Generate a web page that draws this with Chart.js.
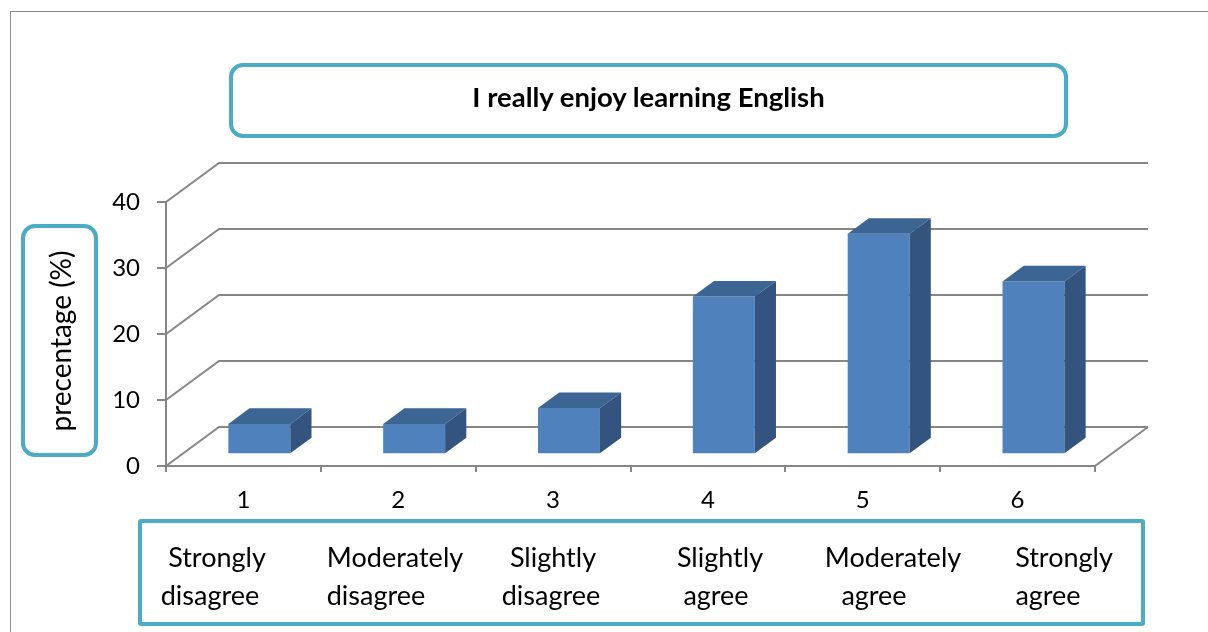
<!DOCTYPE html>
<html>
<head>
<meta charset="utf-8">
<script src="https://cdn.jsdelivr.net/npm/chart.js@4.4.1/dist/chart.umd.min.js"></script>
<style>
  body { margin: 0; width: 1208px; height: 632px; overflow: hidden; position: relative; background: #fff; font-family: Lato, sans-serif; color: #000; }
  #frame { position: absolute; left: 10px; top: 11px; width: 1400px; height: 800px; border-left: 1px solid #8c8c8c; border-top: 1px solid #8c8c8c; }
  #chart { position: absolute; left: 0; top: 0; }
  .box { position: absolute; box-sizing: border-box; border: 4.5px solid #4bacc6; background: transparent; }
  #title { left: 229px; top: 63px; width: 839px; height: 75px; border-radius: 14px; display: flex; align-items: center; justify-content: center; font-weight: bold; font-size: 27.5px; padding-bottom: 8px; }
  #ytitle { left: 21px; top: 224px; width: 77px; height: 233px; border-radius: 14px; }
  #ytitle span { position: absolute; left: 50%; top: 50%; transform: translate(-50%, -50%) rotate(-90deg); white-space: nowrap; font-size: 28px; }
  #catbox { left: 138px; top: 519px; width: 1007px; height: 107px; border-radius: 3px; }
  .cat { position: absolute; font-size: 27px; line-height: 27px; white-space: nowrap; transform: translateX(-50%); }
</style>
</head>
<body>
<div id="frame"></div>
<canvas id="chart" width="1208" height="632"></canvas>
<div class="box" id="title">I really enjoy learning English</div>
<div class="box" id="ytitle"><span>precentage (%)</span></div>
<div class="box" id="catbox"></div>
<script>
const categories = ['1', '2', '3', '4', '5', '6'];
const percentages = [4.6, 4.6, 7.0, 23.9, 33.4, 26.2];
const responseLines = [
  ['Strongly', 'disagree'],
  ['Moderately', 'disagree'],
  ['Slightly', 'disagree'],
  ['Slightly', 'agree'],
  ['Moderately', 'agree'],
  ['Strongly', 'agree']
];

// where each line of the answer text sits (center x)
const labelCenters = [[217, 210], [395, 376], [553, 551], [720, 716], [893, 874], [1064, 1048]];
const lineTops = [543, 581];

// oblique depth of the floor, and where the bars sit inside it
const DX = 53, DY = -39;
const BAR_FRONT = 0.3, BAR_DEPTH = 0.4;
const GRID = '#868686';

responseLines.forEach((lines, i) => {
  lines.forEach((txt, j) => {
    const el = document.createElement('div');
    el.className = 'cat';
    el.textContent = txt;
    el.style.left = labelCenters[i][j] + 'px';
    el.style.top = lineTops[j] + 'px';
    document.body.appendChild(el);
  });
});

const box3d = {
  id: 'box3d',
  beforeDatasetsDraw(chart) {
    const ctx = chart.ctx;
    const area = chart.chartArea;
    const y = chart.scales.y;
    ctx.save();
    ctx.strokeStyle = GRID;
    ctx.lineWidth = 2;
    ctx.beginPath();
    y.ticks.forEach(t => {
      const py = y.getPixelForValue(t.value);
      ctx.moveTo(area.left, py);
      ctx.lineTo(area.left + DX, py + DY);
      ctx.lineTo(area.right + DX, py + DY);
    });
    ctx.moveTo(area.right, area.bottom);
    ctx.lineTo(area.right + DX, area.bottom + DY);
    ctx.stroke();
    ctx.restore();

    ctx.save();
    ctx.translate(DX * BAR_FRONT, DY * BAR_FRONT);
  },
  afterDatasetsDraw(chart) {
    const ctx = chart.ctx;
    const bx = DX * BAR_DEPTH, by = DY * BAR_DEPTH;
    chart.getDatasetMeta(0).data.forEach(bar => {
      const p = bar.getProps(['x', 'y', 'base', 'width'], true);
      const l = p.x - p.width / 2, r = p.x + p.width / 2;
      // top
      ctx.fillStyle = '#3d6593';
      ctx.beginPath();
      ctx.moveTo(l, p.y);
      ctx.lineTo(r, p.y);
      ctx.lineTo(r + bx, p.y + by);
      ctx.lineTo(l + bx, p.y + by);
      ctx.closePath();
      ctx.fill();
      // side
      ctx.fillStyle = '#32547f';
      ctx.beginPath();
      ctx.moveTo(r, p.y);
      ctx.lineTo(r + bx, p.y + by);
      ctx.lineTo(r + bx, p.base + by);
      ctx.lineTo(r, p.base);
      ctx.closePath();
      ctx.fill();
    });
    ctx.restore();
  }
};

const tickFont = { family: 'Lato', size: 24 };

new Chart(document.querySelector('#chart'), {
  type: 'bar',
  data: {
    labels: categories,
    datasets: [{
      label: 'percentage',
      data: percentages,
      backgroundColor: '#4f81bd',
      borderWidth: 0,
      barPercentage: 0.4,
      categoryPercentage: 1,
      clip: false
    }]
  },
  options: {
    responsive: false,
    animation: false,
    devicePixelRatio: 1,
    layout: { padding: { top: 202, right: 113, bottom: 0, left: 0 } },
    plugins: { legend: { display: false }, tooltip: { enabled: false } },
    scales: {
      x: {
        offset: true,
        grid: { offset: true, drawOnChartArea: false, tickLength: 6, color: GRID, lineWidth: 2 },
        border: { color: GRID, width: 2 },
        ticks: { color: '#000', font: tickFont, padding: 14, maxRotation: 0 },
        afterFit: s => { s.height = 166; }
      },
      y: {
        min: 0,
        max: 40,
        grid: { drawOnChartArea: false, tickLength: 9, color: GRID, lineWidth: 2 },
        border: { color: GRID, width: 2 },
        ticks: { stepSize: 10, color: '#000', font: tickFont, padding: 17 },
        afterFit: s => { s.width = 166; }
      }
    }
  },
  plugins: [box3d]
});
</script>
</body>
</html>
